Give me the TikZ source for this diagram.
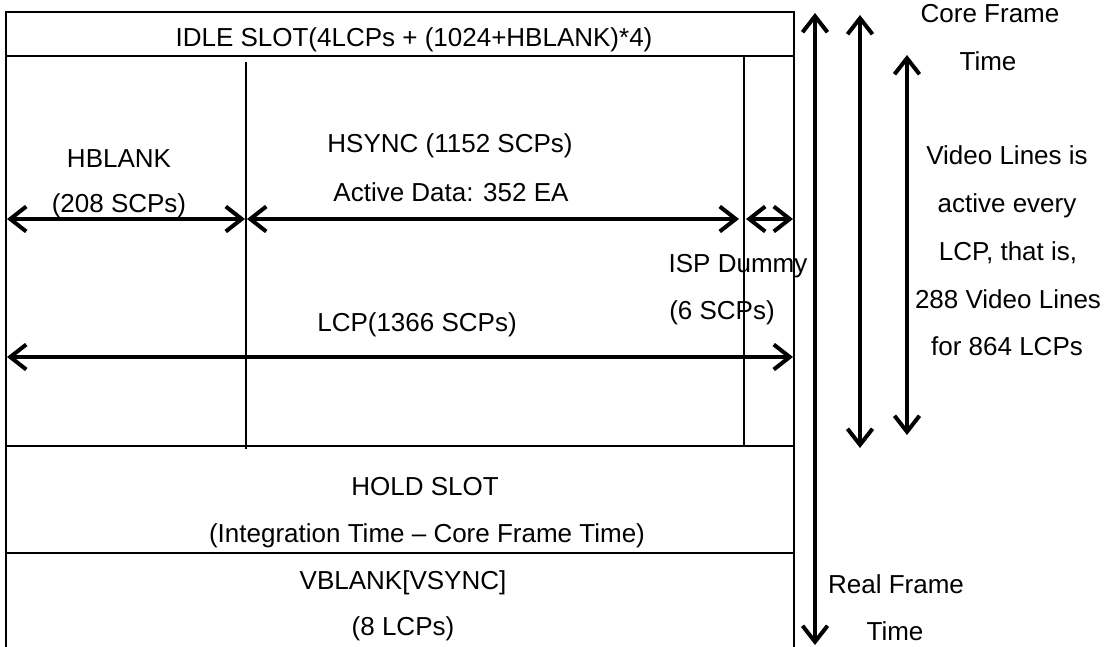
\documentclass[tikz,border=0pt]{standalone}
\usepackage{fontspec}
\setmainfont{Liberation Sans}
\usetikzlibrary{arrows.meta}
\begin{document}
\begin{tikzpicture}[x=1pt,y=-1pt,
  frame/.style={line width=2pt},
  barb/.tip={Straight Barb[length=16pt,width=25pt,line width=4pt]},
  dimarrow/.style={line width=3.8pt,barb-barb},
  lbl/.style={font=\fontsize{26}{31}\selectfont, inner sep=0pt, anchor=base}]
\useasboundingbox (0,0) rectangle (1108,647);
% frame
\draw[frame] (6,647) -- (6,12) -- (794,12) -- (794,647);
\draw[frame] (6,56) -- (794,56);
\draw[frame] (6,446) -- (794,446);
\draw[frame] (6,553) -- (794,553);
\draw[frame] (246,62) -- (246,449);
\draw[frame] (744,56) -- (744,446);
% arrow end points
\coordinate (hbL) at (7,219);
\coordinate (hbR) at (245,219);
\coordinate (hsL) at (247,219);
\coordinate (hsR) at (739,219);
\coordinate (isL) at (746,219);
\coordinate (isR) at (793,219);
\coordinate (lcpL) at (7,357);
\coordinate (lcpR) at (793,357);
\coordinate (rfT) at (815,13);
\coordinate (rfB) at (815,645);
\coordinate (cfT) at (860,15);
\coordinate (cfB) at (860,448);
\coordinate (vlT) at (907,55);
\coordinate (vlB) at (907,435);
\draw[dimarrow] (hbL) -- (hbR);
\draw[dimarrow] (hsL) -- (hsR);
\draw[dimarrow] (isL) -- (isR);
\draw[dimarrow] (lcpL) -- (lcpR);
\draw[dimarrow] (rfT) -- (rfB);
\draw[dimarrow] (cfT) -- (cfB);
\draw[dimarrow] (vlT) -- (vlB);
% labels
\node[lbl] (idle) at (414,47) {IDLE SLOT(4LCPs + (1024+HBLANK)*4)};
\node[lbl] (hb1) at (119,168) {HBLANK};
\node[lbl] (hb2) at (119,212) {(208 SCPs)};
\node[lbl] (hs1) at (450,153) {HSYNC (1152 SCPs)};
\node[lbl] (hs2) at (451,201) {Active Data: 352 EA};
\node[lbl] (isp1) at (738,272) {ISP Dummy};
\node[lbl] (isp2) at (722,319) {(6 SCPs)};
\node[lbl] (lcp) at (417,331) {LCP(1366 SCPs)};
\node[lbl] (hold1) at (425,495) {HOLD SLOT};
\node[lbl] (hold2) at (427,542) {(Integration Time – Core Frame Time)};
\node[lbl] (vb1) at (403,589) {VBLANK[VSYNC]};
\node[lbl] (vb2) at (403,635) {(8 LCPs)};
\node[lbl] (cf1) at (990,23) {Core Frame};
\node[lbl] (cf2) at (988,71) {Time};
\node[lbl] (vl1) at (1007,165) {Video Lines is};
\node[lbl] (vl2) at (1007,212) {active every};
\node[lbl] (vl3) at (1008,260) {LCP, that is,};
\node[lbl] (vl4) at (1008,308) {288 Video Lines};
\node[lbl] (vl5) at (1007,355) {for 864 LCPs};
\node[lbl] (rf1) at (896,593) {Real Frame};
\node[lbl] (rf2) at (895,640) {Time};
\end{tikzpicture}
\end{document}
